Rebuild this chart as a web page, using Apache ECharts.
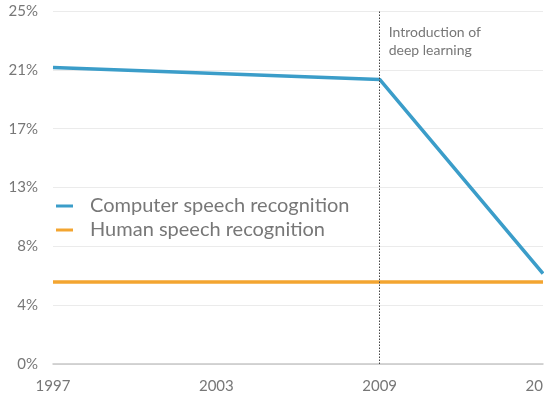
<!DOCTYPE html>
<html><head><meta charset="utf-8">
<script src="https://cdn.jsdelivr.net/npm/echarts@6/dist/echarts.min.js"></script>
<style>html,body{margin:0;padding:0;background:#fff}#c{width:544px;height:408px}</style>
</head><body><div id="c"></div>
<script>
const years = [1997, 2009, 2015];
const computerError = [21.0, 20.15, 6.4];
const humanYears = [1997, 2015];
const humanError = [5.8, 5.8];
const xTicks = [1997, 2003, 2009, 2015];
const annotationYear = 2009;
const annotationText = 'Introduction of\ndeep learning';
const seriesNames = ['Computer speech recognition', 'Human speech recognition'];

const font = 'Lato, "Open Sans", sans-serif';
const chart = echarts.init(document.getElementById('c'));
chart.setOption({
  animation: false,
  backgroundColor: '#fff',
  grid: { left: 53, right: 1, top: 11, bottom: 44, outerBoundsMode: 'none', containLabel: false },
  legend: {
    orient: 'vertical', left: 56, top: 194, itemGap: 0, padding: 0,
    icon: 'rect', itemWidth: 17, itemHeight: 3,
    textStyle: { fontFamily: font, fontSize: 20, color: '#777', lineHeight: 24, padding: [0, 0, 0, 12] },
    data: seriesNames
  },
  xAxis: {
    type: 'value', min: xTicks[0], max: xTicks[xTicks.length - 1], interval: 6,
    axisLine: { lineStyle: { color: '#c8c8c8', width: 1.5 } },
    axisTick: { show: false }, splitLine: { show: false },
    axisLabel: { margin: 15, fontFamily: font, fontSize: 15, color: '#777', formatter: v => String(v), hideOverlap: false }
  },
  yAxis: {
    type: 'value', min: 0, max: 25, interval: 25 / 6,
    axisLine: { show: false }, axisTick: { show: false },
    splitLine: { lineStyle: { color: '#ebebeb', width: 1 } },
    axisLabel: { margin: 15, fontFamily: font, fontSize: 15, color: '#777', formatter: v => Math.round(v) + '%' }
  },
  series: [
    {
      name: seriesNames[0], type: 'line', symbol: 'none', color: '#3b9dc9',
      lineStyle: { width: 3.5 },
      data: years.map((y, i) => [y, computerError[i]]),
      markLine: {
        silent: true, symbol: 'none', label: { show: false },
        lineStyle: { type: [1.5, 1.5], color: '#444', width: 1 },
        data: [{ xAxis: annotationYear }]
      },
      z: 3
    },
    {
      name: seriesNames[1], type: 'line', symbol: 'none', color: '#f3a530',
      lineStyle: { width: 3.5 },
      data: humanYears.map((y, i) => [y, humanError[i]]),
      z: 2
    }
  ]
});
const p = chart.convertToPixel({ gridIndex: 0 }, [annotationYear, 25]);
chart.setOption({
  graphic: [{
    type: 'text', left: p[0] + 9, top: p[1] + 12,
    style: { text: annotationText, fontFamily: font, fontSize: 14, fill: '#777', lineHeight: 18 }
  }]
});
</script></body></html>
